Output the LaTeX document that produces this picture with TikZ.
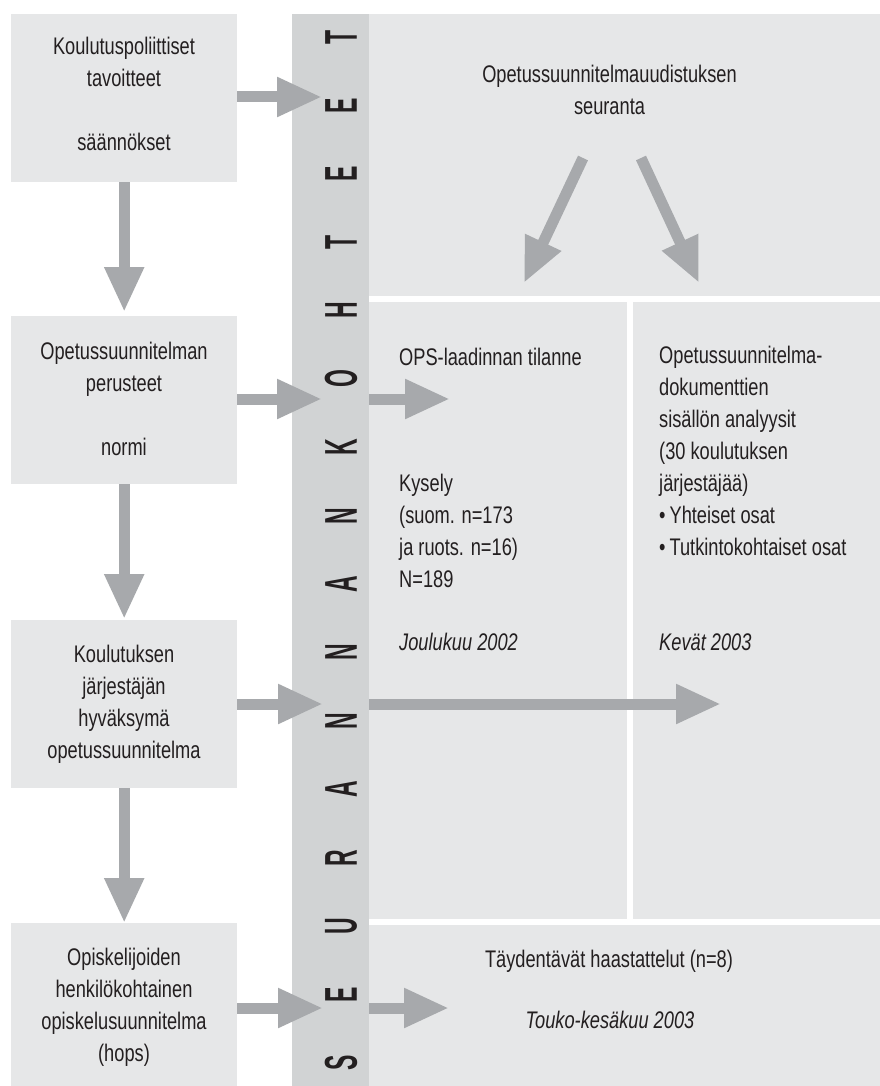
\documentclass[tikz,border=0pt]{standalone}
\usepackage{fontspec}
\setmainfont{Liberation Sans}[FakeStretch=0.76]
\newfontfamily\bandfont{Liberation Sans}[FakeStretch=0.5]
\usetikzlibrary{arrows.meta}
\definecolor{boxgrey}{HTML}{E6E7E8}
\definecolor{bandgrey}{HTML}{D1D3D4}
\definecolor{arrowgrey}{HTML}{A7A9AC}
\definecolor{inkblack}{HTML}{231F20}

\begin{document}
\begin{tikzpicture}[x=1pt,y=-1pt,
  lbox/.style={fill=boxgrey, inner sep=0pt, anchor=north west, minimum width=226pt},
  panel/.style={fill=boxgrey, inner sep=0pt, anchor=north west},
  band/.style={fill=bandgrey, inner sep=0pt, anchor=north west},
  txt/.style={inner sep=0pt, text=inkblack, font=\fontsize{24}{32}\selectfont},
  bandletter/.style={inner sep=0pt, text=inkblack, rotate=90, font=\bandfont\bfseries\fontsize{46}{46}\selectfont},
  flow/.style={draw=arrowgrey, line width=11pt, -{Triangle[length=45pt,width=37pt]}}]
\fill[white] (0,0) rectangle (880,1086);
\useasboundingbox (0,0) rectangle (880,1086);

\node[lbox, minimum height=168pt] (k1) at (11,14) {};
\node[lbox, minimum height=168pt] (k2) at (11,316) {};
\node[lbox, minimum height=168pt] (k3) at (11,620) {};
\node[lbox, minimum height=163pt] (k4) at (11,923) {};
\node[band, minimum width=77pt, minimum height=1072pt] (band) at (292,14) {};
\node[panel, minimum width=511pt, minimum height=282pt] (seur) at (369,14) {};
\node[panel, minimum width=258pt, minimum height=617pt] (ops) at (369,302) {};
\node[panel, minimum width=247pt, minimum height=617pt] (dok) at (633,302) {};
\node[panel, minimum width=511pt, minimum height=161pt] (haast) at (369,925) {};

\foreach \ch [count=\i from 0] in {S,E,U,R,A,N,N,A,N,K,O,H,T,E,E,T}
  \node[bandletter] (l\i) at (341,1063-68.4*\i) {\ch};

% base = baseline of the last line
\node[txt, anchor=base, align=center] (k1t) at (124,151) {Koulutuspoliittiset\\tavoitteet\\[32pt]säännökset};
\node[txt, anchor=base, align=center] (k2t) at (124,455) {Opetussuunnitelman\\perusteet\\[32pt]normi};
\node[txt, anchor=base, align=center] (k3t) at (124,758) {Koulutuksen\\järjestäjän\\hyväksymä\\opetussuunnitelma};
\node[txt, anchor=base, align=center] (k4t) at (124,1061) {Opiskelijoiden\\henkilökohtainen\\opiskelusuunnitelma\\(hops)};

\node[txt, anchor=base, align=center] (seurt) at (609.5,115) {Opetussuunnitelmauudistuksen\\seuranta};
\node[txt, anchor=base west] (opst) at (399,365) {OPS-laadinnan tilanne};
\node[txt, anchor=base west, align=left] (kys) at (399,587) {Kysely\\(suom. n=173\\ja ruots. n=16)\\N=189};
\node[txt, anchor=base west] (joul) at (399,650) {\itshape Joulukuu 2002};
\node[txt, anchor=base west, align=left] (dokt) at (659,555) {Opetussuunnitelma-\\dokumenttien\\sisällön analyysit\\(30 koulutuksen\\järjestäjää)\\\textbullet\,Yhteiset osat\\\textbullet\,Tutkintokohtaiset osat};
\node[txt, anchor=base west] (kev) at (659,650) {\itshape Kevät 2003};
\node[txt, anchor=base] (haastt) at (609,967) {Täydentävät haastattelut (n=8)};
\node[txt, anchor=base] (touko) at (610,1028) {\itshape Touko-kesäkuu 2003};

\coordinate (e1) at (322,97);
\coordinate (e2) at (322,399);
\coordinate (f2) at (450,399);
\coordinate (e3) at (323,704);
\coordinate (f3) at (721,704);
\coordinate (e4) at (323,1008);
\coordinate (f4) at (449,1008);
\coordinate (v1) at (583,158);
\coordinate (w1) at (524,283);
\coordinate (v2) at (641,158);
\coordinate (w2) at (699,283);

\draw[flow] (k1.east |- e1) -- (e1);
\draw[flow] (k2.east |- e2) -- (e2);
\draw[flow] (k3.east |- e3) -- (e3);
\draw[flow] (k4.east |- e4) -- (e4);
\draw[flow] (band.east |- f2) -- (f2);
\draw[flow] (band.east |- f3) -- (f3);
\draw[flow] (band.east |- f4) -- (f4);
\draw[flow] (k1.south) -- ([yshift=4pt]k2.north);
\draw[flow] (k2.south) -- ([yshift=1pt]k3.north);
\draw[flow] (k3.south) -- (k4.north);
\draw[flow] (v1) -- (w1);
\draw[flow] (v2) -- (w2);
\end{tikzpicture}
\end{document}
